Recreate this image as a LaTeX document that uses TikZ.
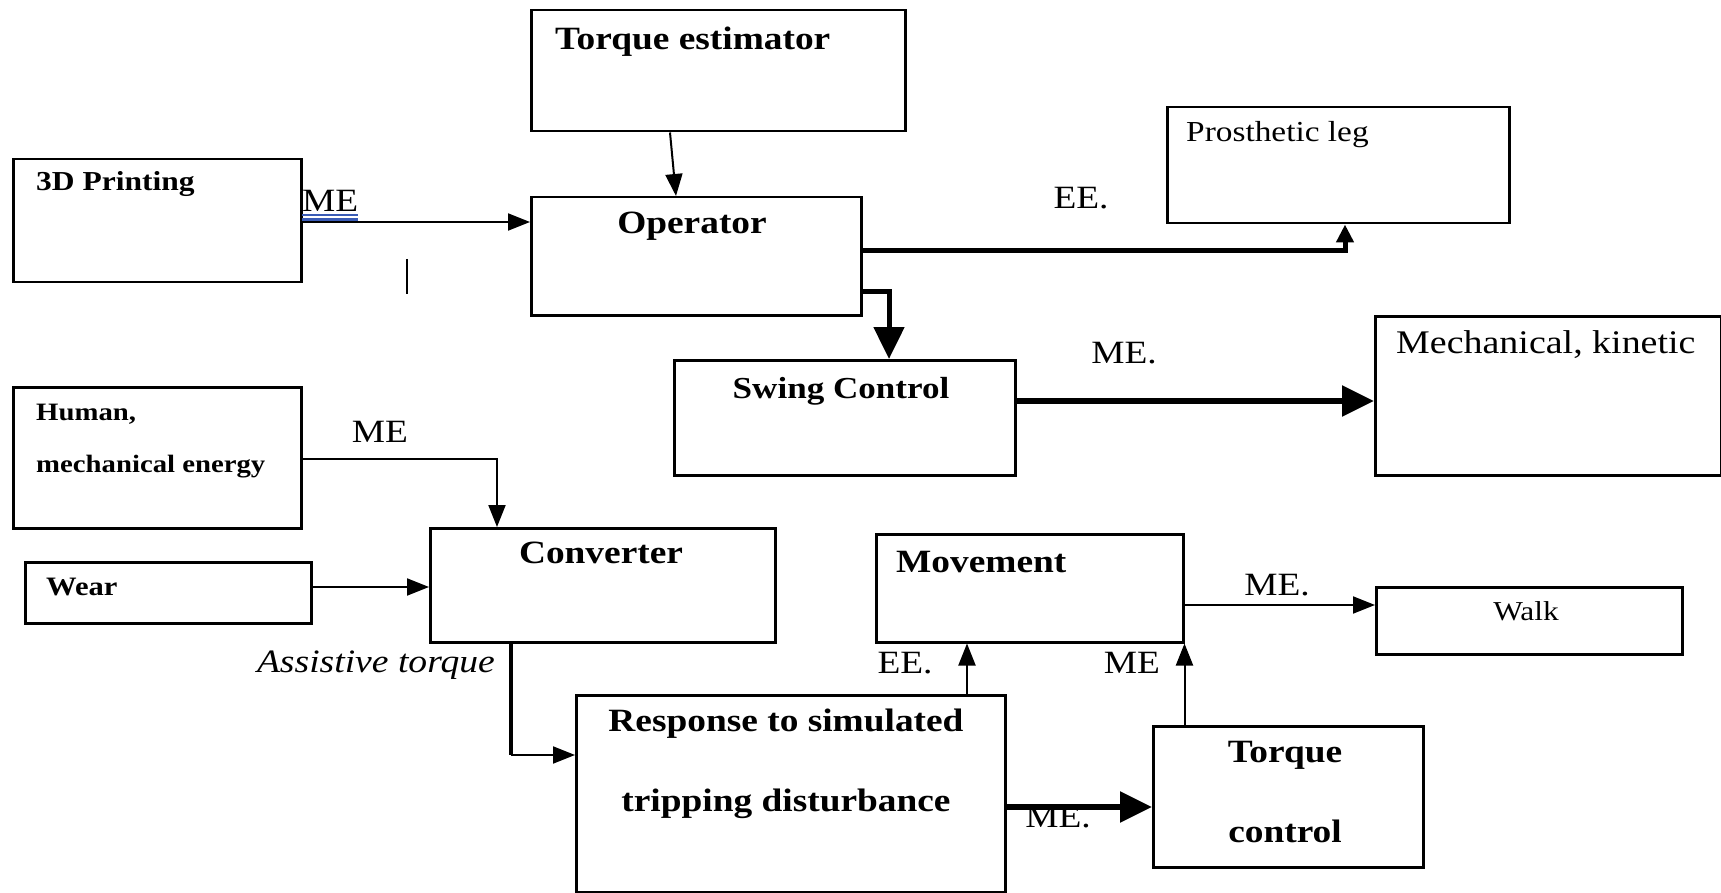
\documentclass[tikz,border=0pt]{standalone}
\usepackage{fontspec}
\setmainfont[FakeStretch=1.15]{Liberation Serif}
\usetikzlibrary{arrows.meta}
\definecolor{uBlue}{HTML}{3A5BB5}
\newcommand\fs[1]{\fontsize{#1}{#1}\selectfont}

\begin{document}
\begin{tikzpicture}[x=1pt, y=-1pt,
    box/.style={draw, line width=2.5pt, anchor=north west, inner sep=0pt},
    txt/.style={anchor=base, inner sep=0pt, font=\fs{32.5}\bfseries},
    lbl/.style={anchor=base, inner sep=0pt, font=\fs{32.5}},
    flow/.style={line width=2pt, -{Triangle[length=22pt, width=17pt]}},
    heavy/.style={line width=5.5pt, -{Triangle[length=32pt, width=30pt]}}]
  \useasboundingbox (0,0) rectangle (1721,893);
  \foreach \nm/\x/\y/\w/\h in
    {te/530/9/374/121, pd/12/158/288/123, op/530/196/330/118,
     pl/1166/106/342/116, sw/673/359/341/115, mk/1374/315/346/159,
     hm/12/386/288/141, wr/24/561/286/61, cv/429/527/345/114,
     mv/875/533/307/108, wk/1375/586/306/67, rs/575/694/429/197,
     tc/1152/725/270/141}
    \node[box, minimum width=\w pt, minimum height=\h pt] (\nm) at (\x,\y) {};

  \node[txt, anchor=base west] (tet) at (555,50) {Torque estimator};
  \node[txt, font=\fs{27.4}\bfseries, anchor=base west] (pdt) at (36,191) {3D Printing};
  \node[txt] (opt) at (692,234) {Operator};
  \node[lbl, font=\fs{29}, anchor=base west] (plt) at (1186,142) {Prosthetic leg};
  \node[txt, font=\fs{30.5}\bfseries] (swt) at (841,398) {Swing Control};
  \node[lbl, font=\fs{33}, anchor=base west] (mkt) at (1396,353) {Mechanical, kinetic};
  \node[txt, font=\fs{25}\bfseries, anchor=base west] (hmt) at (36,420) {Human,};
  \node[txt, font=\fs{25}\bfseries, anchor=base west] (hmt2) at (36,472) {mechanical energy};
  \node[txt, font=\fs{26.6}\bfseries, anchor=base west] (wrt) at (46,595) {Wear};
  \node[txt] (cvt) at (601,563) {Converter};
  \node[txt, anchor=base west] (mvt) at (896,572) {Movement};
  \node[lbl, font=\fs{27.3}] (wkt) at (1526,620) {Walk};
  \node[txt] (rst) at (786,731) {Response to simulated};
  \node[txt] (rst2) at (786,811) {tripping disturbance};
  \node[txt] (tct) at (1285,762) {Torque};
  \node[txt] (tct2) at (1285,842) {control};

  \draw[flow] (pd.east |- 0,222) -- (op.west |- 0,222);
  \draw[flow] ([xshift=140pt]te.south west) -- ([xshift=146pt]op.north west);
  \draw[heavy, line width=5pt, -{Triangle[length=18pt, width=17pt]}]
    (op.east |- 0,251) -| (pl.south -| 1345,0);
  \draw[heavy, line width=5pt] (op.east |- 0,292) -| (sw.north -| 889,0);
  \draw[heavy] (sw.east |- 0,401) -- (mk.west |- 0,401);
  \draw[flow] (hm.east |- 0,459) -| (cv.north -| 497,0);
  \draw[flow] (wr.east |- 0,587) -- (cv.west |- 0,587);
  \coordinate (bend) at (511,755);
  \draw[line width=4pt] (cv.south -| bend) -- (bend);
  \draw[flow] (bend) -- (rs.west |- bend);
  \draw[flow] (rs.north -| 967,0) -- (mv.south -| 967,0);
  \draw[flow] (tc.north -| mv.east) -- (mv.south east);
  \draw[flow] (mv.east |- 0,605) -- (wk.west |- 0,605);
  \draw[heavy] (rs.east |- 0,807) -- (tc.west |- 0,807);

  \foreach \t/\x/\y [count=\i] in
    {EE./1081/209, ME./1124/363, ME/380/442, EE./905/673,
     ME/1132/673, ME./1277/595, ME./1058/827}
    \node[lbl] (fl\i) at (\x,\y) {\t};
  \node[lbl, anchor=base west] (pdme) at (302,212) {ME};
  \draw[uBlue, line width=2.2pt]
    ([yshift=-3pt]pdme.base west) -- ([yshift=-3pt]pdme.base east)
    ([yshift=-7.5pt]pdme.base west) -- ([yshift=-7.5pt]pdme.base east);
  \node[lbl, font=\fs{32.7}\itshape, anchor=base east] (ast) at (495,672) {Assistive torque};
  \draw[line width=2pt] (407,259) -- (407,294);
\end{tikzpicture}
\end{document}
